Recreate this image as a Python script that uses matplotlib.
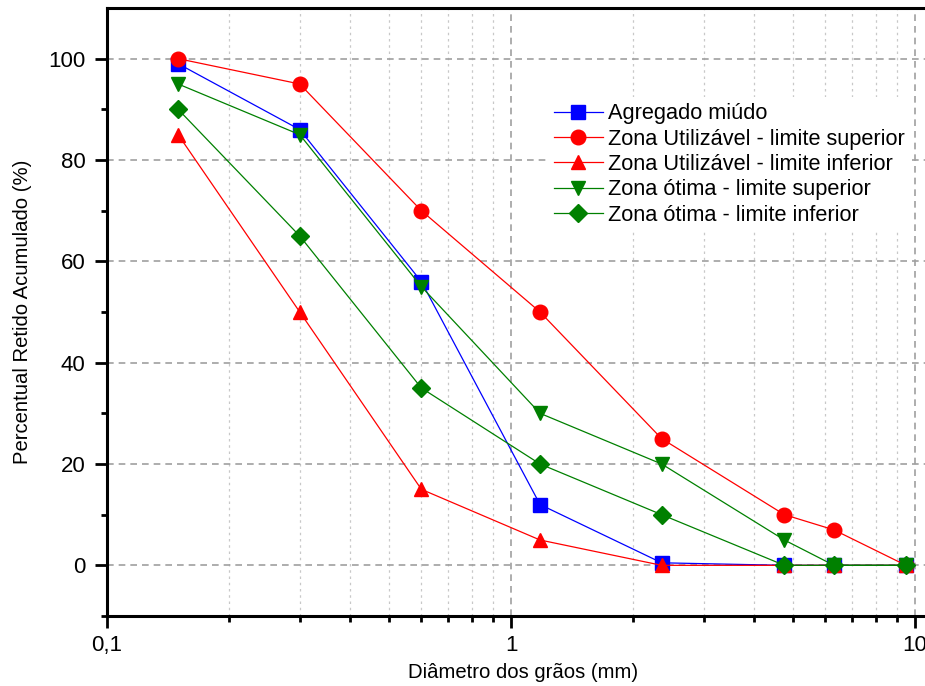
import matplotlib.pyplot as plt
import numpy as np
from matplotlib.ticker import FixedLocator, LogLocator, NullFormatter

plt.rcParams['font.family'] = ['Liberation Sans', 'DejaVu Sans']

# abertura das peneiras (mm)
peneiras = [0.15, 0.3, 0.6, 1.18, 2.36, 4.75, 6.3, 9.5]
agregado = [99, 86, 56, 12, 0.5, 0, 0, 0]
util_sup = [100, 95, 70, 50, 25, 10, 7, 0]
util_inf = [85, 50, 15, 5, 0, 0, 0, 0]
otima_sup = [95, 85, 55, 30, 20, 5, 0, 0]
otima_inf = [90, 65, 35, 20, 10, 0, 0, 0]

fig = plt.figure(figsize=(9.25, 6.86), dpi=100)
ax = fig.add_axes([107/925, 70/686, 833/925, 608/686])

lw = 0.9
ms = 10.5
ax.plot(peneiras, agregado, color='blue', lw=lw, marker='s', ms=ms*0.9, label='Agregado miúdo')
ax.plot(peneiras, util_sup, color='red', lw=lw, marker='o', ms=ms, label='Zona Utilizável - limite superior')
ax.plot(peneiras, util_inf, color='red', lw=lw, marker='^', ms=ms, label='Zona Utilizável - limite inferior')
ax.plot(peneiras, otima_sup, color='green', lw=lw, marker='v', ms=ms, label='Zona ótima - limite superior')
ax.plot(peneiras, otima_inf, color='green', lw=lw, marker='D', ms=ms*0.85, label='Zona ótima - limite inferior')

ax.set_xscale('log')
ax.set_xlim(0.1, 0.1 * 10 ** (833 / 404))
ax.set_ylim(-10, 110)

ax.xaxis.set_major_locator(FixedLocator([0.1, 1, 10]))
ax.xaxis.set_minor_locator(LogLocator(base=10, subs=np.arange(2, 10)))
ax.xaxis.set_minor_formatter(NullFormatter())
ax.set_xticklabels(['0,1', '1', '10'])
ax.set_yticks([0, 20, 40, 60, 80, 100])
ax.yaxis.set_minor_locator(FixedLocator([-10, 10, 30, 50, 70, 90]))

ax.grid(which='major', color='#a0a0a0', linestyle=(0, (4, 3)), linewidth=1.2)
ax.grid(which='minor', axis='x', color='#c8c8c8', linestyle=(0, (2, 3)), linewidth=0.9)
ax.set_axisbelow(True)

for s in ['left', 'bottom', 'top']:
    ax.spines[s].set_linewidth(2.2)
ax.spines['right'].set_visible(False)
ax.tick_params(which='major', direction='out', length=8.5, width=2, labelsize=16, pad=7)
ax.tick_params(axis='x', which='major', pad=5)
ax.tick_params(which='minor', direction='out', length=4.5, width=2)

ax.set_xlabel('Diâmetro dos grãos (mm)', fontsize=14.6, labelpad=5)
ax.set_ylabel('Percentual Retido Acumulado (%)', fontsize=14.6, labelpad=12)

leg = ax.legend(loc='upper left', bbox_to_anchor=(0.5156, 0.872), frameon=True, fontsize=15.7,
                handlelength=2.25, handletextpad=0.25, labelspacing=0.2, borderpad=0.3)
leg.get_frame().set_edgecolor('none')
leg.get_frame().set_facecolor('white')
leg.get_frame().set_alpha(1)
leg.get_frame().set_boxstyle('square', pad=0)

fig.savefig('out.png', dpi=100)
